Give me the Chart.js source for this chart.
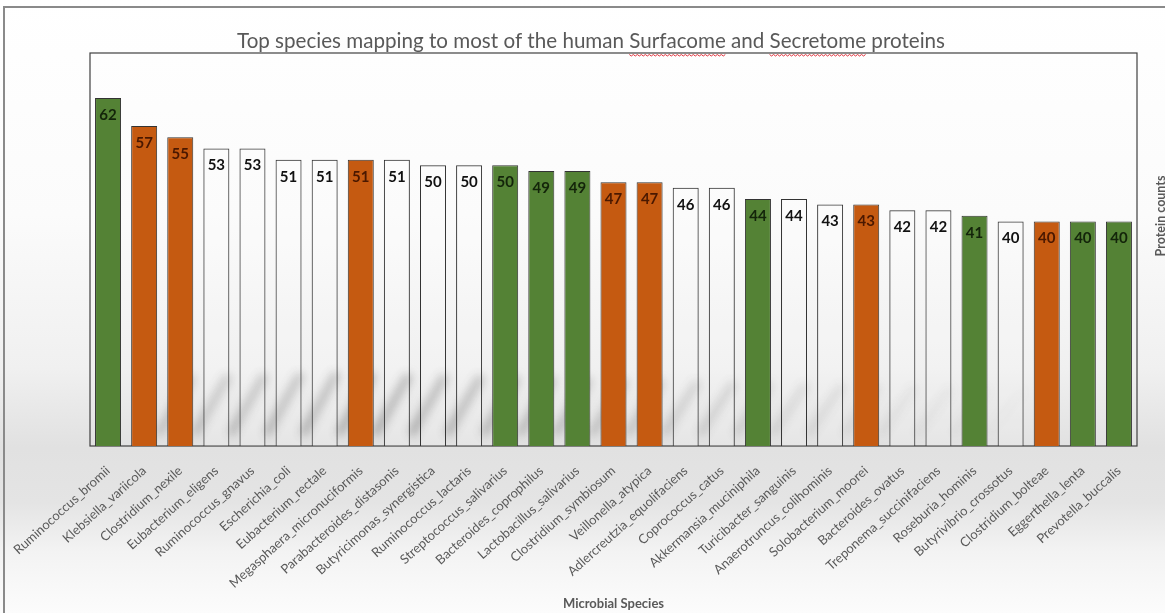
<!DOCTYPE html>
<html>
<head>
<meta charset="utf-8">
<script src="https://cdn.jsdelivr.net/npm/chart.js@4.4.1/dist/chart.umd.min.js"></script>
<style>
  html, body { margin: 0; padding: 0; overflow: hidden; background: #fff; }
  #wrap {
    position: relative; width: 1165px; height: 613px; overflow: hidden;
    background: linear-gradient(to bottom, #ffffff 0%, #fbfbfb 35%, #f0f0f0 60%, #e1e1e1 73%, #e4e4e4 82%, #f3f3f3 90%, #fcfcfc 100%);
  }
  #frame {
    position: absolute; left: 3px; top: 6px; width: 1400px; height: 900px;
    border: 2px solid #8a8a8a; box-sizing: border-box;
  }
  #box { position: absolute; left: 0; top: 0; width: 1165px; height: 613px; }
</style>
</head>
<body>
<div id="wrap">
  <div id="frame"></div>
  <div id="box"><canvas id="speciesChart"></canvas></div>
</div>
<script>
const chartTitle = 'Top species mapping to most of the human Surfacome and Secretome proteins';
const xTitle = 'Microbial Species';
const yTitle = 'Protein counts';

const species = [
  'Ruminococcus_bromii', 'Klebsiella_variicola', 'Clostridium_nexile', 'Eubacterium_eligens',
  'Ruminococcus_gnavus', 'Escherichia_coli', 'Eubacterium_rectale', 'Megasphaera_micronuciformis',
  'Parabacteroides_distasonis', 'Butyricimonas_synergistica', 'Ruminococcus_lactaris',
  'Streptococcus_salivarius', 'Bacteroides_coprophilus', 'Lactobacillus_salivarius',
  'Clostridium_symbiosum', 'Veillonella_atypica', 'Adlercreutzia_equolifaciens', 'Coprococcus_catus',
  'Akkermansia_muciniphila', 'Turicibacter_sanguinis', 'Anaerotruncus_colihominis',
  'Solobacterium_moorei', 'Bacteroides_ovatus', 'Treponema_succinifaciens', 'Roseburia_hominis',
  'Butyrivibrio_crossotus', 'Clostridium_bolteae', 'Eggerthella_lenta', 'Prevotella_buccalis'
];
const proteinCounts = [62, 57, 55, 53, 53, 51, 51, 51, 51, 50, 50, 50, 49, 49, 47, 47, 46, 46, 44, 44, 43, 43, 42, 42, 41, 40, 40, 40, 40];
const groups = ['g', 'o', 'o', 'w', 'w', 'w', 'w', 'o', 'w', 'w', 'w', 'g', 'g', 'g', 'o', 'o', 'w', 'w', 'g', 'w', 'w', 'o', 'w', 'w', 'g', 'w', 'o', 'g', 'g'];

const fillFor = { g: '#548235', o: '#c55a11', w: 'rgba(255,255,255,0.15)' };
const labelFor = { g: '#13240a', o: '#4a1800', w: '#111111' };
const grey = '#595959';

// title drawn by hand so it can sit on the frame like the original
const titlePlugin = {
  id: 'titlePlugin',
  afterDraw(chart) {
    const ctx = chart.ctx;
    ctx.save();
    ctx.font = '20.6px Lato';
    ctx.fillStyle = grey;
    ctx.textBaseline = 'alphabetic';
    const w = ctx.measureText(chartTitle).width;
    const x0 = 591 - w / 2;
    ctx.fillText(chartTitle, x0, 48);
    // spell-check squiggles
    ctx.strokeStyle = '#e0303a';
    ctx.lineWidth = 1;
    ['Surfacome', 'Secretome'].forEach(word => {
      const idx = chartTitle.indexOf(word);
      const sx = x0 + ctx.measureText(chartTitle.slice(0, idx)).width;
      const ex = sx + ctx.measureText(word).width;
      ctx.beginPath();
      for (let px = sx, k = 0; px <= ex; px += 2, k++) {
        const py = 55 + (k % 2 ? 1 : -0.5);
        if (k === 0) ctx.moveTo(px, py); else ctx.lineTo(px, py);
      }
      ctx.stroke();
    });
    // right-hand axis title
    ctx.font = 'bold 12.5px Lato';
    ctx.textAlign = 'center';
    ctx.textBaseline = 'middle';
    ctx.translate(1161, 216);
    ctx.rotate(-Math.PI / 2);
    ctx.fillText(yTitle, 0, 0);
    ctx.restore();
  }
};

const framePlugin = {
  id: 'framePlugin',
  beforeDatasetsDraw(chart) {
    const { ctx, chartArea: a, scales: { x, y } } = chart;
    ctx.save();
    ctx.beginPath();
    ctx.rect(a.left, a.top, a.right - a.left, a.bottom - a.top);
    ctx.clip();
    // soft reflection smear near the bottom of the plot
    ctx.filter = 'blur(5px)';
    ctx.lineWidth = 8;
    for (let i = 2; i < 27; i++) {
      const fade = Math.max(0, 1 - Math.abs(i - 8) / 18);
      ctx.strokeStyle = 'rgba(100,100,100,' + (0.5 * fade).toFixed(3) + ')';
      const cx = x.getPixelForValue(i);
      ctx.beginPath();
      ctx.moveTo(cx - 22, y.getPixelForValue(2));
      ctx.lineTo(cx + 12, y.getPixelForValue(13 - Math.abs(i - 6) * 0.15));
      ctx.stroke();
    }
    ctx.filter = 'none';
    ctx.restore();
    ctx.save();
    ctx.strokeStyle = '#404040';
    ctx.lineWidth = 1.2;
    ctx.strokeRect(a.left, a.top, a.right - a.left, a.bottom - a.top);
    ctx.restore();
  }
};

const valueLabels = {
  id: 'valueLabels',
  afterDatasetsDraw(chart) {
    const ctx = chart.ctx;
    const meta = chart.getDatasetMeta(0);
    ctx.save();
    ctx.font = 'bold 15px Lato';
    ctx.textAlign = 'center';
    ctx.textBaseline = 'middle';
    meta.data.forEach((bar, i) => {
      ctx.fillStyle = labelFor[groups[i]];
      ctx.fillText(String(proteinCounts[i]), bar.x, bar.y + 17);
    });
    ctx.restore();
  }
};

new Chart(document.getElementById('speciesChart'), {
  type: 'bar',
  data: {
    labels: species,
    datasets: [{
      data: proteinCounts,
      backgroundColor: groups.map(g => fillFor[g]),
      borderColor: '#333333',
      borderWidth: 1,
      barPercentage: 0.72,
      categoryPercentage: 1
    }]
  },
  options: {
    responsive: true,
    maintainAspectRatio: false,
    animation: false,
    layout: { padding: { top: 53, right: 28, bottom: 0, left: 0 } },
    plugins: { legend: { display: false }, tooltip: { enabled: false }, title: { display: false } },
    scales: {
      x: {
        grid: { display: false },
        border: { display: false },
        ticks: {
          autoSkip: false, minRotation: 42, maxRotation: 42, padding: 9,
          color: grey, font: { family: 'Lato', size: 13 }
        },
        title: {
          display: true, text: xTitle, color: grey,
          font: { family: 'Lato', size: 13, weight: 'bold' },
          padding: { top: 0, bottom: 1 }
        },
        afterFit(s) { s.height = 613 - 446; }
      },
      y: {
        min: 0, max: 70,
        grid: { display: false },
        border: { display: false },
        ticks: { display: false },
        afterFit(s) { s.width = 90; }
      }
    }
  },
  plugins: [framePlugin, valueLabels, titlePlugin]
});
</script>
</body>
</html>
